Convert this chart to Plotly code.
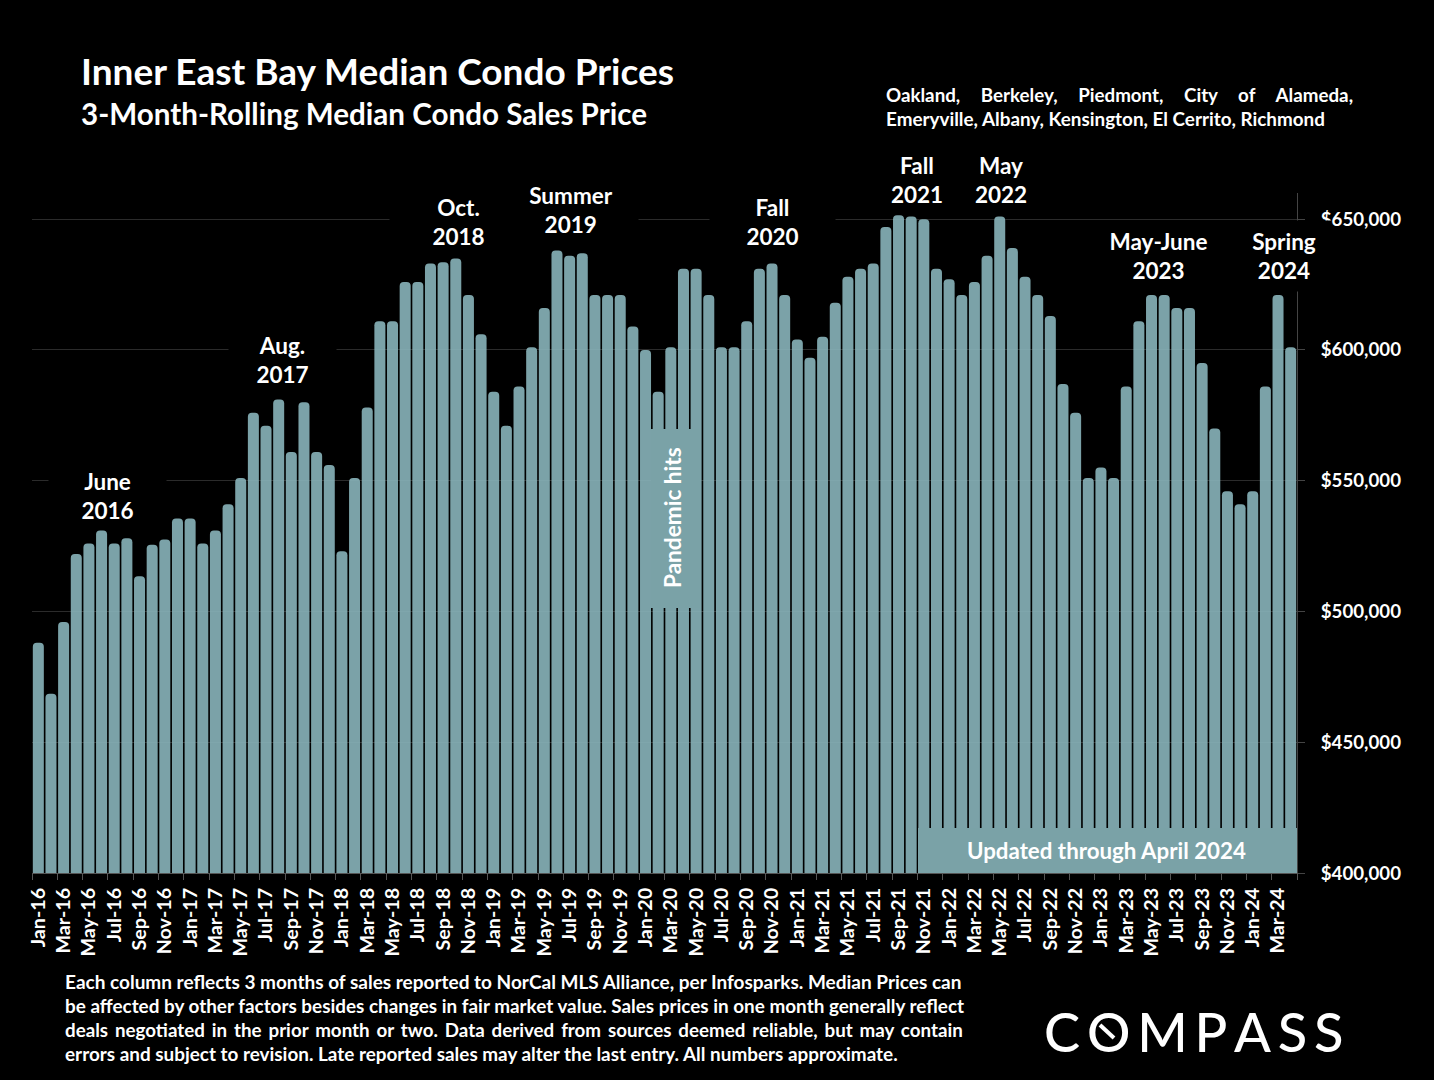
#!/usr/bin/env python3
# -*- coding: utf-8 -*-

import plotly.graph_objects as go

# month labels, Jan-16 to Apr-24
years = ['16', '17', '18', '19', '20', '21', '22', '23']
month_names = ['Jan', 'Feb', 'Mar', 'Apr', 'May', 'Jun', 'Jul', 'Aug', 'Sep', 'Oct', 'Nov', 'Dec']
months = [m + '-' + y for y in years for m in month_names] + ['Jan-24', 'Feb-24', 'Mar-24', 'Apr-24']

prices = [
    488000, 468500, 496000, 522000, 526000, 531000, 526000, 528000, 513500, 525500, 527500, 535500,
    535500, 526000, 531000, 541000, 551000, 576000, 571000, 581000, 561000, 580000, 561000, 556000,
    523000, 551000, 578000, 611000, 611000, 626000, 626000, 633000, 633500, 635000, 621000, 606000,
    584000, 571000, 586000, 601000, 616000, 638000, 636000, 637000, 621000, 621000, 621000, 609000,
    600000, 584000, 601000, 631000, 631000, 621000, 601000, 601000, 611000, 631000, 633000, 621000,
    604000, 597000, 605000, 618000, 628000, 631000, 633000, 647000, 651500, 651000, 650000, 631000,
    627000, 621000, 626000, 636000, 651000, 639000, 628000, 621000, 613000, 587000, 576000, 551000,
    555000, 551000, 586000, 611000, 621000, 621000, 616000, 616000, 595000, 570000, 546000, 541000,
    546000, 586000, 621000, 601000,
]

price_ticks = [400000, 450000, 500000, 550000, 600000, 650000]

footer_lines = [
    'Each column reflects 3 months of sales reported to NorCal MLS Alliance, per Infosparks. Median Prices can',
    'be affected by other factors besides changes in fair market value. Sales prices in one month generally reflect',
    'deals negotiated in the prior month or two. Data derived from sources deemed reliable, but may contain',
    'errors and subject to revision. Late reported sales may alter the last entry. All numbers approximate.',
]
footer_sizes = [19.0, 18.9, 18.75, 18.9]
# thin spaces stretch the short line to the justified width
footer_gaps = [' ', ' ', ' \u2009', ' ']

TEAL = '#7aa2a7'
FONT = 'Lato'

# plot area in page pixels
LEFT, RIGHT, TOP, BOTTOM = 32, 1297, 193, 873


def px(x):
    return (x - LEFT) / (RIGHT - LEFT)


def py(y):
    return (BOTTOM - y) / (BOTTOM - TOP)


def note(text, x, y, size, xanchor='center', weight='bold', **kw):
    return dict(text=text, x=px(x), y=py(y), xref='paper', yref='paper', xanchor=xanchor, yanchor='middle',
                showarrow=False, font=dict(family=FONT, size=size, color='white', weight=weight), **kw)


def peak(text, x, y, width, height):
    # black box hides the gridlines behind the callout
    return note(text, x, y, 22.5, width=width, height=height, bgcolor='black')


wide = '\u00a0' * 4 + '\u2009'
annotations = [
    note('Inner East Bay Median Condo Prices', 79, 71, 37, 'left'),
    note('3-Month-Rolling Median Condo Sales Price', 79, 114, 29.6, 'left'),
    note(wide.join(['Oakland,', 'Berkeley,', 'Piedmont,', 'City', 'of', 'Alameda,']), 884, 94.5, 18.75, 'left'),
    note('Emeryville, Albany, Kensington, El Cerrito, Richmond', 884, 119, 18.85, 'left'),
    peak('June<br>2016', 107, 496, 115, 62),
    peak('Aug.<br>2017', 282, 360, 105, 62),
    peak('Oct.<br>2018', 458, 222, 135, 58),
    peak('Summer<br>2019', 571, 210, 132, 66),
    peak('Fall<br>2020', 773, 222, 123, 62),
    peak('Fall<br>2021', 917, 180, 70, 60),
    peak('May<br>2022', 1001, 180, 70, 60),
    peak('May-June<br>2023', 1158, 256, 125, 64),
    peak('Spring<br>2024', 1284, 255.5, 92, 68),
    note('Pandemic hits', 672, 518, 22.6, textangle=-90),
    note('Updated through April 2024', 1106, 850, 22.3),
    note('C\u2009O\u2009M\u2009P\u2009A\u2009S\u2009S', 1193, 1031, 54.2, weight=500),
]
for i, line in enumerate(footer_lines):
    annotations.append(note(line.replace(' ', footer_gaps[i]), 63, 981.5 + 24 * i, footer_sizes[i], 'left'))

shapes = [
    dict(type='rect', xref='paper', yref='paper', x0=px(651), x1=px(700), y0=py(608), y1=py(429),
         fillcolor=TEAL, line_width=0, layer='above'),
    dict(type='rect', xref='paper', yref='paper', x0=px(918), x1=1, y0=0, y1=py(828),
         fillcolor=TEAL, line_width=0, layer='above'),
    # slash inside the logo O
    dict(type='line', xref='paper', yref='paper', x0=px(1100), x1=px(1114), y0=py(1025), y1=py(1038),
         line=dict(color='white', width=4)),
]

# slightly see-through bars so the gridlines show faintly
fig = go.Figure(go.Bar(x=months, y=prices, marker=dict(color='rgba(136,180,186,0.9)', cornerradius=4, line_width=0)))

fig.update_layout(
    width=1434, height=1080,
    margin=dict(l=LEFT, r=1434 - RIGHT, t=TOP, b=1080 - BOTTOM),
    paper_bgcolor='black', plot_bgcolor='black',
    bargap=0.13, showlegend=False,
    font=dict(family=FONT, color='white'),
    annotations=annotations, shapes=shapes,
)
fig.update_xaxes(
    type='category', categoryorder='array', categoryarray=months,
    dtick=2, tickson='boundaries', ticks='outside', ticklen=6, tickcolor='#555555',
    tickangle=-90, showgrid=False, showline=True, linecolor='#555555', ticklabelstandoff=6,
    tickfont=dict(family=FONT, size=19.7, color='white', weight='bold'),
)
fig.update_yaxes(
    side='right', range=[400000, 660000], tickvals=price_ticks, tickformat='$,d',
    ticks='outside', ticklen=7, tickcolor='#444444', gridcolor='#2b2b2b', gridwidth=1, zeroline=False,
    showline=True, linecolor='#444444', ticklabelstandoff=12,
    tickfont=dict(family=FONT, size=18.7, color='white', weight='bold'),
)

fig.write_html('out.html', config={'displayModeBar': False}, post_script="document.body.style.margin='0';")
